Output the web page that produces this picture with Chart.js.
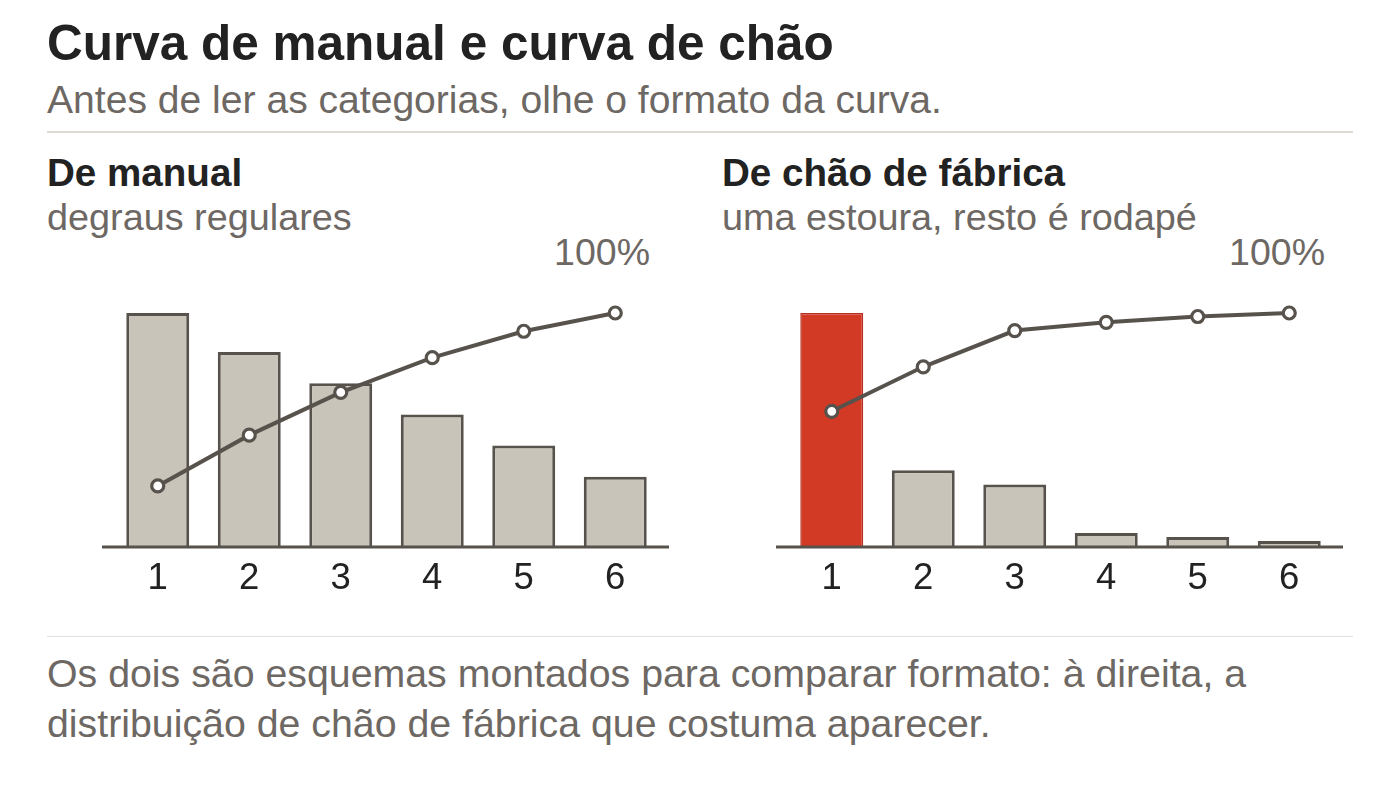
<!DOCTYPE html>
<html lang="pt">
<head>
<meta charset="utf-8">
<script src="https://cdn.jsdelivr.net/npm/chart.js@4/dist/chart.umd.min.js"></script>
<style>
  html, body { margin: 0; padding: 0; background: #ffffff; }
  body { width: 1400px; height: 791px; position: relative; overflow: hidden;
         font-family: "Liberation Sans", Arial, Helvetica, sans-serif; }
  .t { position: absolute; white-space: nowrap; line-height: 1; }
  #title { left: 47px; top: 18px; font-size: 49.5px; font-weight: bold; color: #222222; }
  #subtitle { left: 47px; top: 79.5px; font-size: 39.1px; color: #6d6863; }
  .rule { position: absolute; left: 47px; width: 1306px; }
  #rule1 { top: 131px; height: 2px; background: #dedad4; }
  #rule2 { top: 636px; height: 1px; background: #e4e1dc; }
  .ptitle { top: 153.5px; font-size: 38.6px; font-weight: bold; color: #222222; }
  .psub { top: 199px; font-size: 37.8px; color: #6d6863; }
  .pct { top: 234px; width: 200px; text-align: right; font-size: 37.5px; color: #6d6863; }
  #footer { position: absolute; left: 47px; top: 648px; font-size: 39.3px; line-height: 50px; color: #6d6863; }
  .cv { position: absolute; top: 280px; width: 653px; height: 330px; }
</style>
</head>
<body>
<div id="title" class="t">Curva de manual e curva de chão</div>
<div id="subtitle" class="t">Antes de ler as categorias, olhe o formato da curva.</div>
<div id="rule1" class="rule"></div>

<div class="t ptitle" style="left:47px">De manual</div>
<div class="t psub" style="left:47px">degraus regulares</div>
<div class="t pct" style="left:450px">100%</div>

<div class="t ptitle" style="left:722px">De chão de fábrica</div>
<div class="t psub" style="left:722px">uma estoura, resto é rodapé</div>
<div class="t pct" style="left:1125px">100%</div>

<div class="cv" style="left:47px"><canvas id="c1"></canvas></div>
<div class="cv" style="left:721px"><canvas id="c2"></canvas></div>

<div id="rule2" class="rule"></div>
<div id="footer">Os dois são esquemas montados para comparar formato: à direita, a<br>distribuição de chão de fábrica que costuma aparecer.</div>

<script>
// ---- data ----
const categories = ["1", "2", "3", "4", "5", "6"];
const manualValues = [30, 25, 21, 17, 13, 9];
const manualCumulative = [26.1, 47.8, 66.1, 80.9, 92.2, 100];
const chaoValues = [58, 19, 15.5, 3.5, 2.5, 1.5];
const chaoCumulative = [58, 77, 92.5, 96, 98.5, 100];
const percentTicks = [0, 100];

// ---- styles ----
const INK = "#57524c";
const BAR_FILL = "#c9c4b9";
const RED_FILL = "#d23a25";
const RED_EDGE = "#b5301e";

const baselinePlugin = {
  id: "baseline",
  afterDatasetDraw(chart, args) {
    if (args.meta.type !== "bar") return;
    const { ctx, chartArea } = chart;
    const y = chart.scales.y.getPixelForValue(0);
    ctx.save();
    ctx.strokeStyle = INK;
    ctx.lineWidth = 3;
    ctx.beginPath();
    ctx.moveTo(chartArea.left - 10, y);
    ctx.lineTo(chartArea.right + 8, y);
    ctx.stroke();
    ctx.restore();
  }
};

function makeChart(id, values, cumulative, highlightFirst) {
  const fills = values.map((v, i) => (highlightFirst && i === 0) ? RED_FILL : BAR_FILL);
  const edges = values.map((v, i) => (highlightFirst && i === 0) ? RED_EDGE : INK);
  const widths = values.map((v, i) => (highlightFirst && i === 0) ? 1.5 : 3);
  return new Chart(document.getElementById(id), {
    type: "bar",
    data: {
      labels: categories,
      datasets: [
        {
          type: "line",
          data: cumulative,
          yAxisID: "y2",
          order: 0,
          borderColor: INK,
          borderWidth: 4,
          pointRadius: 6,
          pointBorderWidth: 3.2,
          pointBackgroundColor: "#ffffff",
          pointBorderColor: INK,
          tension: 0,
          clip: false
        },
        {
          type: "bar",
          data: values,
          yAxisID: "y",
          order: 1,
          backgroundColor: fills,
          borderColor: edges,
          borderWidth: widths,
          borderSkipped: "start",
          barPercentage: 0.86,
          categoryPercentage: 0.8
        }
      ]
    },
    options: {
      responsive: true,
      maintainAspectRatio: false,
      animation: false,
      events: [],
      layout: { padding: { left: 65, right: 39, top: 33, bottom: 0 } },
      plugins: { legend: { display: false }, tooltip: { enabled: false } },
      scales: {
        x: {
          grid: { display: false, drawTicks: false },
          border: { display: false },
          ticks: { color: "#222222", padding: 10, font: { family: "Liberation Sans", size: 36.5 } },
          afterFit(scale) { scale.height = 63; }
        },
        y: { display: false, min: 0, max: Math.max(...values) },
        y2: { display: false, min: percentTicks[0], max: percentTicks[1] }
      }
    },
    plugins: [baselinePlugin]
  });
}

makeChart("c1", manualValues, manualCumulative, false);
makeChart("c2", chaoValues, chaoCumulative, true);
</script>
</body>
</html>
